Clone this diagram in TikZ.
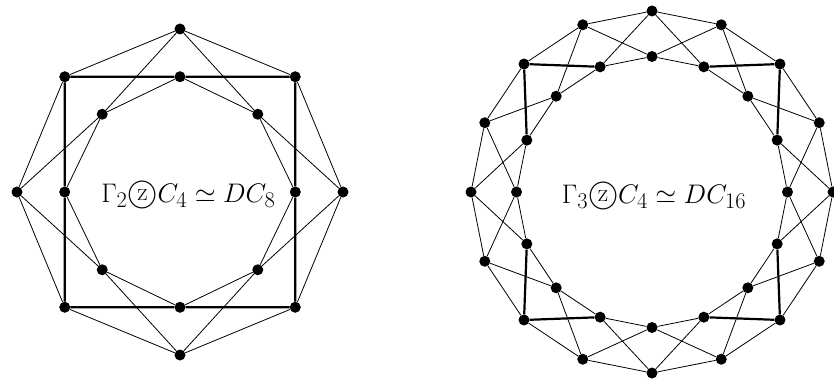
\documentclass[tikz,border=0pt]{standalone}
\usepackage{graphicx}
\newcommand{\czprod}{\mbox{\ooalign{\scalebox{1.12}{$\bigcirc$}\crcr\hfil\raise1.6pt\hbox{\scalebox{0.95}{z}}\hfil}}}
\begin{document}
\begin{tikzpicture}[x=1pt,y=1pt,
  dot/.style={circle,fill=black,inner sep=0pt,minimum size=11pt},
  thinedge/.style={line width=0.8pt},
  thickedge/.style={line width=2.2pt},
  lbl/.style={anchor=base,inner sep=0pt,font=\fontsize{24.88}{30}\selectfont}]
\useasboundingbox (0,0) rectangle (834,381);
% left graph: center (180,189)
\foreach \k in {0,...,7}{
  \pgfmathsetmacro\ri{mod(\k,2)==0 ? 115.3 : 110}
  \node[dot] (Lo\k) at ([shift={(180,189)}] {90-45*\k}:163) {};
  \node[dot] (Li\k) at ([shift={(180,189)}] {90-45*\k}:\ri) {};
}
\foreach \k in {0,...,7}{
  \pgfmathtruncatemacro\n{mod(\k+1,8)}
  \draw[thinedge] (Lo\k) -- (Lo\n);
  \draw[thinedge] (Li\k) -- (Li\n);
  \pgfmathtruncatemacro\odd{mod(\k,2)}
  \ifnum\odd=1
    \draw[thickedge] (Lo\k) -- (Li\n);
    \draw[thinedge] (Li\k) -- (Lo\n);
  \else
    \draw[thinedge] (Lo\k) -- (Li\n);
    \draw[thickedge] (Li\k) -- (Lo\n);
  \fi
}
\node[lbl] (Ltxt) at (188.3,179) {\scalebox{1.08}{$\Gamma_2\czprod C_4\simeq DC_8$}};
% right graph: center (652,189)
\foreach \k in {0,...,15}{
  \node[dot] (Ro\k) at ([shift={(652,189)}] {90-22.5*\k}:181) {};
  \node[dot] (Ri\k) at ([shift={(652,189)}] {90-22.5*\k}:135.5) {};
}
\foreach \k in {0,...,15}{
  \pgfmathtruncatemacro\n{mod(\k+1,16)}
  \draw[thinedge] (Ro\k) -- (Ro\n);
  \draw[thinedge] (Ri\k) -- (Ri\n);
  \pgfmathtruncatemacro\a{mod(\k,4)}
  \pgfmathtruncatemacro\b{mod(\k+1,4)}
  \ifnum\a=2
    \draw[thickedge] (Ro\k) -- (Ri\n);
  \else
    \draw[thinedge] (Ro\k) -- (Ri\n);
  \fi
  \ifnum\b=2
    \draw[thickedge] (Ri\k) -- (Ro\n);
  \else
    \draw[thinedge] (Ri\k) -- (Ro\n);
  \fi
}
\node[lbl] (Rtxt) at (654,178) {\scalebox{1.08}{$\Gamma_3\czprod C_4\simeq DC_{16}$}};
\end{tikzpicture}
\end{document}
